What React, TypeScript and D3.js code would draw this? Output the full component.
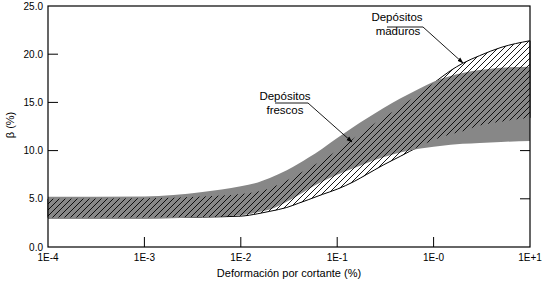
import * as d3 from "d3";

// shear strain (%) sample points, shared by every band edge
const strain = [0.0001, 0.001, 0.004, 0.01, 0.015, 0.02, 0.03, 0.04, 0.05, 0.07, 0.1, 0.15, 0.2, 0.3, 0.45, 0.7, 1, 1.5, 2, 3, 5, 10];

// Depósitos frescos (gray band)
const frescosUpper = [5.2, 5.25, 5.7, 6.3, 6.7, 7.15, 7.95, 8.65, 9.25, 10.2, 11.3, 12.5, 13.3, 14.4, 15.4, 16.4, 17.15, 17.75, 18.05, 18.35, 18.6, 18.7];
const frescosLower = [2.9, 2.9, 3.1, 3.3, 3.6, 3.9, 4.7, 5.4, 6.0, 6.8, 7.5, 8.2, 8.7, 9.3, 9.8, 10.2, 10.4, 10.6, 10.7, 10.8, 10.9, 11.0];

// Depósitos maduros (hatched band)
const madurosUpper = [5.0, 5.05, 5.25, 5.5, 5.75, 6.1, 6.9, 7.6, 8.15, 9.0, 10.0, 11.3, 12.2, 13.4, 14.5, 15.9, 17.0, 18.3, 19.05, 19.85, 20.7, 21.4];
const madurosLower = [3.05, 3.05, 3.1, 3.2, 3.45, 3.7, 4.1, 4.55, 4.9, 5.45, 6.0, 6.8, 7.5, 8.5, 9.4, 10.4, 11.1, 11.7, 12.0, 12.6, 13.0, 13.4];

const xTicks = [1e-4, 1e-3, 1e-2, 1e-1, 1, 10];
const xTickLabels = ["1E-4", "1E-3", "1E-2", "1E-1", "1E-0", "1E+1"];
const yTicks = [0, 5, 10, 15, 20, 25];

const W = 547;
const H = 282;
const font = "'Liberation Sans', Arial, Helvetica, sans-serif";

export default function App() {
    const x = d3.scaleLog().domain([1e-4, 10]).range([48, 530]);
    const y = d3.scaleLinear().domain([0, 25]).range([247, 6]);

    const band = (lo: number[], hi: number[]) =>
        d3
            .area<number>()
            .x((d) => x(d))
            .y0((_, i) => y(lo[i]))
            .y1((_, i) => y(hi[i]))
            .curve(d3.curveMonotoneX)(strain) as string;

    const frescos = band(frescosLower, frescosUpper);
    const maduros = band(madurosLower, madurosUpper);

    const [x0, x1] = x.range();
    const [y0, y1] = y.range();

    return (
        <svg width={W} height={H} style={{ position: "absolute", left: 0, top: 0 }} fontFamily={font}>
            <defs>
                <pattern id="hatch" patternUnits="userSpaceOnUse" width={6} height={6}>
                    <path d="M-1,1 L1,-1 M0,6 L6,0 M5,7 L7,5" stroke="#000" strokeWidth={0.9} />
                </pattern>
                <marker id="arrow" viewBox="0 0 10 10" refX={9} refY={5} markerWidth={7} markerHeight={7} orient="auto">
                    <path d="M0,1.5 L10,5 L0,8.5 Z" fill="#000" />
                </marker>
            </defs>

            {/* inward ticks */}
            {yTicks.slice(1, -1).map((t) => (
                <g key={"yt" + t}>
                    <line x1={x0} x2={x0 + 10} y1={y(t)} y2={y(t)} stroke="#000" />
                    <line x1={x1 - 10} x2={x1} y1={y(t)} y2={y(t)} stroke="#000" />
                </g>
            ))}
            {xTicks.slice(1, -1).map((t) => (
                <line key={"xt" + t} x1={x(t)} x2={x(t)} y1={y0} y2={y0 - 10} stroke="#000" />
            ))}

            {/* bands */}
            <path d={maduros} fill="#fff" stroke="#000" strokeWidth={1} />
            <path d={frescos} fill="#878787" />
            <path d={maduros} fill="url(#hatch)" />

            {/* frame */}
            <rect x={x0} y={y1} width={x1 - x0} height={y0 - y1} fill="none" stroke="#000" strokeWidth={1.2} />

            {/* tick labels */}
            {yTicks.map((t) => (
                <text key={"yl" + t} x={43} y={y(t)} dy="0.35em" textAnchor="end" fontSize={10}>
                    {t.toFixed(1)}
                </text>
            ))}
            {xTicks.map((t, i) => (
                <text key={"xl" + t} x={x(t)} y={261} textAnchor="middle" fontSize={10}>
                    {xTickLabels[i]}
                </text>
            ))}

            {/* axis titles */}
            <text x={289} y={277} textAnchor="middle" fontSize={11}>
                Deformación por cortante (%)
            </text>
            <text transform="translate(14,125) rotate(-90)" textAnchor="middle" fontSize={11}>
                β (%)
            </text>

            {/* annotations */}
            <text x={285} y={100} textAnchor="middle" fontSize={11.5}>Depósitos</text>
            <text x={285} y={114} textAnchor="middle" fontSize={11.5}>frescos</text>
            <polyline points="275,103 308,103 352,142" fill="none" stroke="#000" strokeWidth={0.9} markerEnd="url(#arrow)" />

            <text x={397} y={21} textAnchor="middle" fontSize={11.5}>Depósitos</text>
            <text x={398} y={35} textAnchor="middle" fontSize={11.5}>maduros</text>
            <polyline points="387,27 423,27 463,63" fill="none" stroke="#000" strokeWidth={0.9} markerEnd="url(#arrow)" />
        </svg>
    );
}
